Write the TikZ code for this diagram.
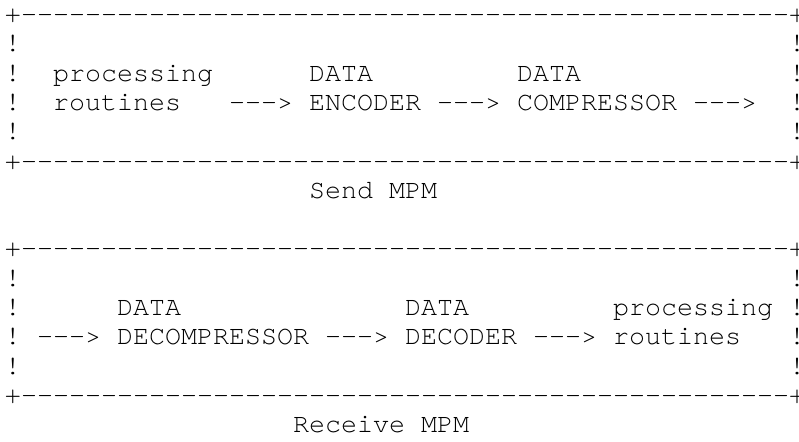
\documentclass[tikz,border=0pt]{standalone}
\usepackage{fontspec}
\setmonofont{TeX Gyre Cursor}
\newcommand\ascfont{\ttfamily\fontsize{26.67pt}{29.3pt}\selectfont}
\tikzset{asc/.style={font=\ascfont, anchor=base west, inner sep=0pt, outer sep=0pt, text=black}}
\newcommand\asctok[4]{\node[asc] (#1) at ({(5+16*#2)*1pt},{-(22.5+29.3*#3)*1pt}) {#4};}
\newcommand\bordline{+------------------------------------------------+}
\begin{document}
\begin{tikzpicture}
\useasboundingbox[fill=white] (0,0) rectangle (799pt,-441pt);
% Send MPM box
\asctok{stop}{0}{0}{\bordline}
\asctok{sl1}{0}{1}{!}\asctok{sr1}{49}{1}{!}
\asctok{sl2}{0}{2}{!}\asctok{sproc}{3}{2}{processing}\asctok{sdata1}{19}{2}{DATA}\asctok{sdata2}{32}{2}{DATA}\asctok{sr2}{49}{2}{!}
\asctok{sl3}{0}{3}{!}\asctok{srout}{3}{3}{routines}\asctok{sa1}{14}{3}{--->}\asctok{senc}{19}{3}{ENCODER}\asctok{sa2}{27}{3}{--->}\asctok{scomp}{32}{3}{COMPRESSOR}\asctok{sa3}{43}{3}{--->}\asctok{sr3}{49}{3}{!}
\asctok{sl4}{0}{4}{!}\asctok{sr4}{49}{4}{!}
\asctok{sbot}{0}{5}{\bordline}
\asctok{sendlbl}{19}{6}{Send MPM}
% Receive MPM box
\asctok{rtop}{0}{8}{\bordline}
\asctok{rl1}{0}{9}{!}\asctok{rr1}{49}{9}{!}
\asctok{rl2}{0}{10}{!}\asctok{rdata1}{7}{10}{DATA}\asctok{rdata2}{25}{10}{DATA}\asctok{rproc}{38}{10}{processing}\asctok{rr2}{49}{10}{!}
\asctok{rl3}{0}{11}{!}\asctok{ra1}{2}{11}{--->}\asctok{rdecomp}{7}{11}{DECOMPRESSOR}\asctok{ra2}{20}{11}{--->}\asctok{rdec}{25}{11}{DECODER}\asctok{ra3}{33}{11}{--->}\asctok{rrout}{38}{11}{routines}\asctok{rr3}{49}{11}{!}
\asctok{rl4}{0}{12}{!}\asctok{rr4}{49}{12}{!}
\asctok{rbot}{0}{13}{\bordline}
\asctok{recvlbl}{18}{14}{Receive MPM}
\end{tikzpicture}
\end{document}
